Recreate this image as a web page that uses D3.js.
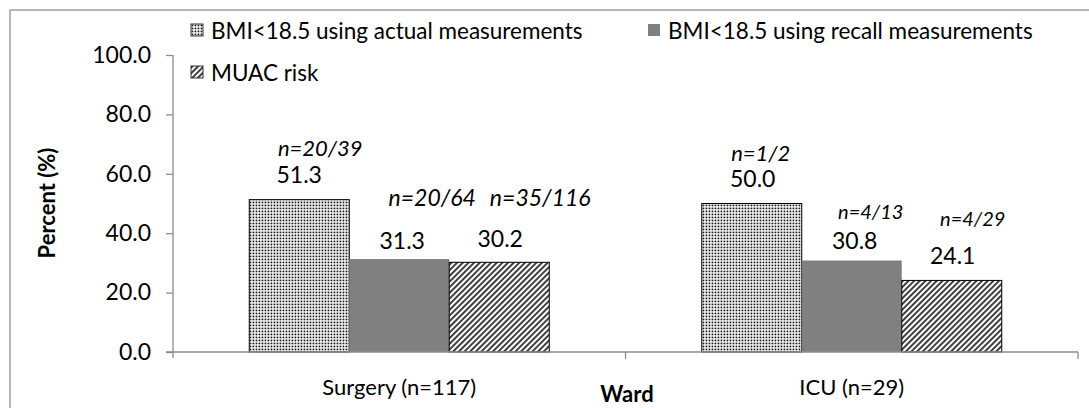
<!DOCTYPE html>
<html><head><meta charset="utf-8">
<script src="https://cdn.jsdelivr.net/npm/d3@7"></script>
<style>html,body{margin:0;padding:0;background:#fff;} svg{display:block;}</style>
</head><body>
<svg id="chart" width="1089" height="408"></svg>
<script>
const wards = ["Surgery (n=117)", "ICU (n=29)"];
const seriesNames = ["BMI<18.5 using actual measurements", "BMI<18.5 using recall measurements", "MUAC risk"];
const actualValues = [51.3, 50.0];
const recallValues = [31.3, 30.8];
const muacValues = [30.2, 24.1];
const nLabels = [["n=20/39", "n=20/64", "n=35/116"], ["n=1/2", "n=4/13", "n=4/29"]];
const yTicks = [0, 20, 40, 60, 80, 100];

const FONT = "Lato, 'Open Sans', sans-serif";
const svg = d3.select("#chart");
const defs = svg.append("defs");
const dots = defs.append("pattern").attr("id", "dots").attr("patternUnits", "userSpaceOnUse")
  .attr("width", 3).attr("height", 3);
dots.append("rect").attr("width", 3).attr("height", 3).attr("fill", "#fff");
dots.append("rect").attr("x", 0.6).attr("y", 0.6).attr("width", 1.7).attr("height", 1.7).attr("fill", "#111");
const hatch = defs.append("pattern").attr("id", "hatch").attr("patternUnits", "userSpaceOnUse")
  .attr("width", 4).attr("height", 4).attr("patternTransform", "rotate(45)");
hatch.append("rect").attr("width", 4).attr("height", 4).attr("fill", "#fff");
hatch.append("line").attr("x1", 1).attr("y1", 0).attr("x2", 1).attr("y2", 4).attr("stroke", "#000").attr("stroke-width", 1.5);

const fills = ["url(#dots)", "#808080", "url(#hatch)"];
const strokes = ["#000", "#808080", "#000"];

// outer frame
svg.append("rect").attr("x", 10).attr("y", 10).attr("width", 1200).attr("height", 600)
  .attr("fill", "none").attr("stroke", "#a0a0a0").attr("stroke-width", 1.5);

const x0 = d3.scaleBand().domain(wards).range([173, 1078]).paddingInner(0).paddingOuter(0);
const x1 = d3.scaleBand().domain(seriesNames).range([0, x0.bandwidth()]).paddingInner(0).paddingOuter(0.7625);
const y = d3.scaleLinear().domain([0, 100]).range([352, 55]);

const data = wards.map((w, i) => ({ ward: w, vals: [actualValues[i], recallValues[i], muacValues[i]] }));

// bars
const g = svg.append("g");
data.forEach((d, i) => {
  d.vals.forEach((v, j) => {
    g.append("rect")
      .attr("x", x0(d.ward) + x1(seriesNames[j]))
      .attr("y", y(v))
      .attr("width", x1.bandwidth())
      .attr("height", y(0) - y(v))
      .attr("fill", fills[j])
      .attr("stroke", strokes[j])
      .attr("stroke-width", j === 1 ? 0 : 1);
  });
});

// y axis
const yAxis = d3.axisLeft(y).tickValues(yTicks).tickFormat(d3.format(".1f")).tickSize(7).tickPadding(15);
const ya = svg.append("g").attr("transform", "translate(173,0)").call(yAxis);
ya.select(".domain").attr("stroke", "#8c8c8c").attr("stroke-width", 1.3).attr("d", "M0," + y(100) + "V" + (y(0) + 6));
ya.selectAll(".tick line").attr("stroke", "#8c8c8c").attr("stroke-width", 1.3);
ya.selectAll(".tick text").attr("font-family", FONT).attr("font-size", 23).attr("fill", "#000");

// x axis
const xAxis = d3.axisBottom(x0).tickSize(0).tickPadding(27);
const xa = svg.append("g").attr("transform", "translate(0," + y(0) + ")").call(xAxis);
xa.select(".domain").attr("stroke", "#8c8c8c").attr("stroke-width", 1.3).attr("d", "M166,0H1078");
xa.selectAll(".tick text").attr("font-family", FONT).attr("font-size", 22).attr("fill", "#000");
const bounds = [x0.range()[0], x0(wards[1]), x0.range()[1]];
xa.selectAll(".bt").data(bounds.slice(1)).enter().append("line")
  .attr("x1", d => d).attr("x2", d => d).attr("y1", 0).attr("y2", 7)
  .attr("stroke", "#8c8c8c").attr("stroke-width", 1.3);

// axis titles
svg.append("text").attr("x", 627).attr("y", 402).attr("text-anchor", "middle")
  .attr("font-family", FONT).attr("font-weight", "bold").attr("font-size", 22).text("Ward");
svg.append("text").attr("transform", "translate(55,203) rotate(-90)").attr("text-anchor", "middle")
  .attr("font-family", FONT).attr("font-weight", "bold").attr("font-size", 22).text("Percent (%)");

// value labels and n labels (offsets from bar tops, placed as in source)
const valDy = [[-25.5, -19, -24], [-25.5, -20.5, -25]];
const valDx = [[0, 3, 1], [1, 3, 1]];
const nDy = [[-52.5, -62, -65], [-51.5, -49.5, -62]];
const nDx = [[21, 33, 41], [9, 19, 21]];
const nSizes = [[22, 23, 23], [22, 20, 20]];
data.forEach((d, i) => {
  d.vals.forEach((v, j) => {
    const cx = x0(d.ward) + x1(seriesNames[j]) + x1.bandwidth() / 2;
    svg.append("text").attr("x", cx + valDx[i][j]).attr("y", y(v) + valDy[i][j])
      .attr("text-anchor", "middle").attr("dominant-baseline", "central")
      .attr("font-family", FONT).attr("font-size", 23).text(d3.format(".1f")(v));
    svg.append("text").attr("x", cx + nDx[i][j]).attr("y", y(v) + nDy[i][j])
      .attr("text-anchor", "middle").attr("dominant-baseline", "central")
      .attr("font-family", FONT).attr("font-style", "italic").attr("font-size", nSizes[i][j]).text(nLabels[i][j]);
  });
});

// legend
const legendPos = [[191, 30], [648, 30], [191, 72]];
seriesNames.forEach((s, j) => {
  const lg = svg.append("g").attr("transform", "translate(" + legendPos[j][0] + "," + legendPos[j][1] + ")");
  lg.append("rect").attr("x", 0).attr("y", -6).attr("width", 12).attr("height", 12)
    .attr("fill", fills[j]).attr("stroke", j === 1 ? "none" : "#333").attr("stroke-width", 1);
  lg.append("text").attr("x", 20).attr("y", 0).attr("dominant-baseline", "central")
    .attr("font-family", FONT).attr("font-size", 22.5).text(s);
});
</script>
</body></html>
